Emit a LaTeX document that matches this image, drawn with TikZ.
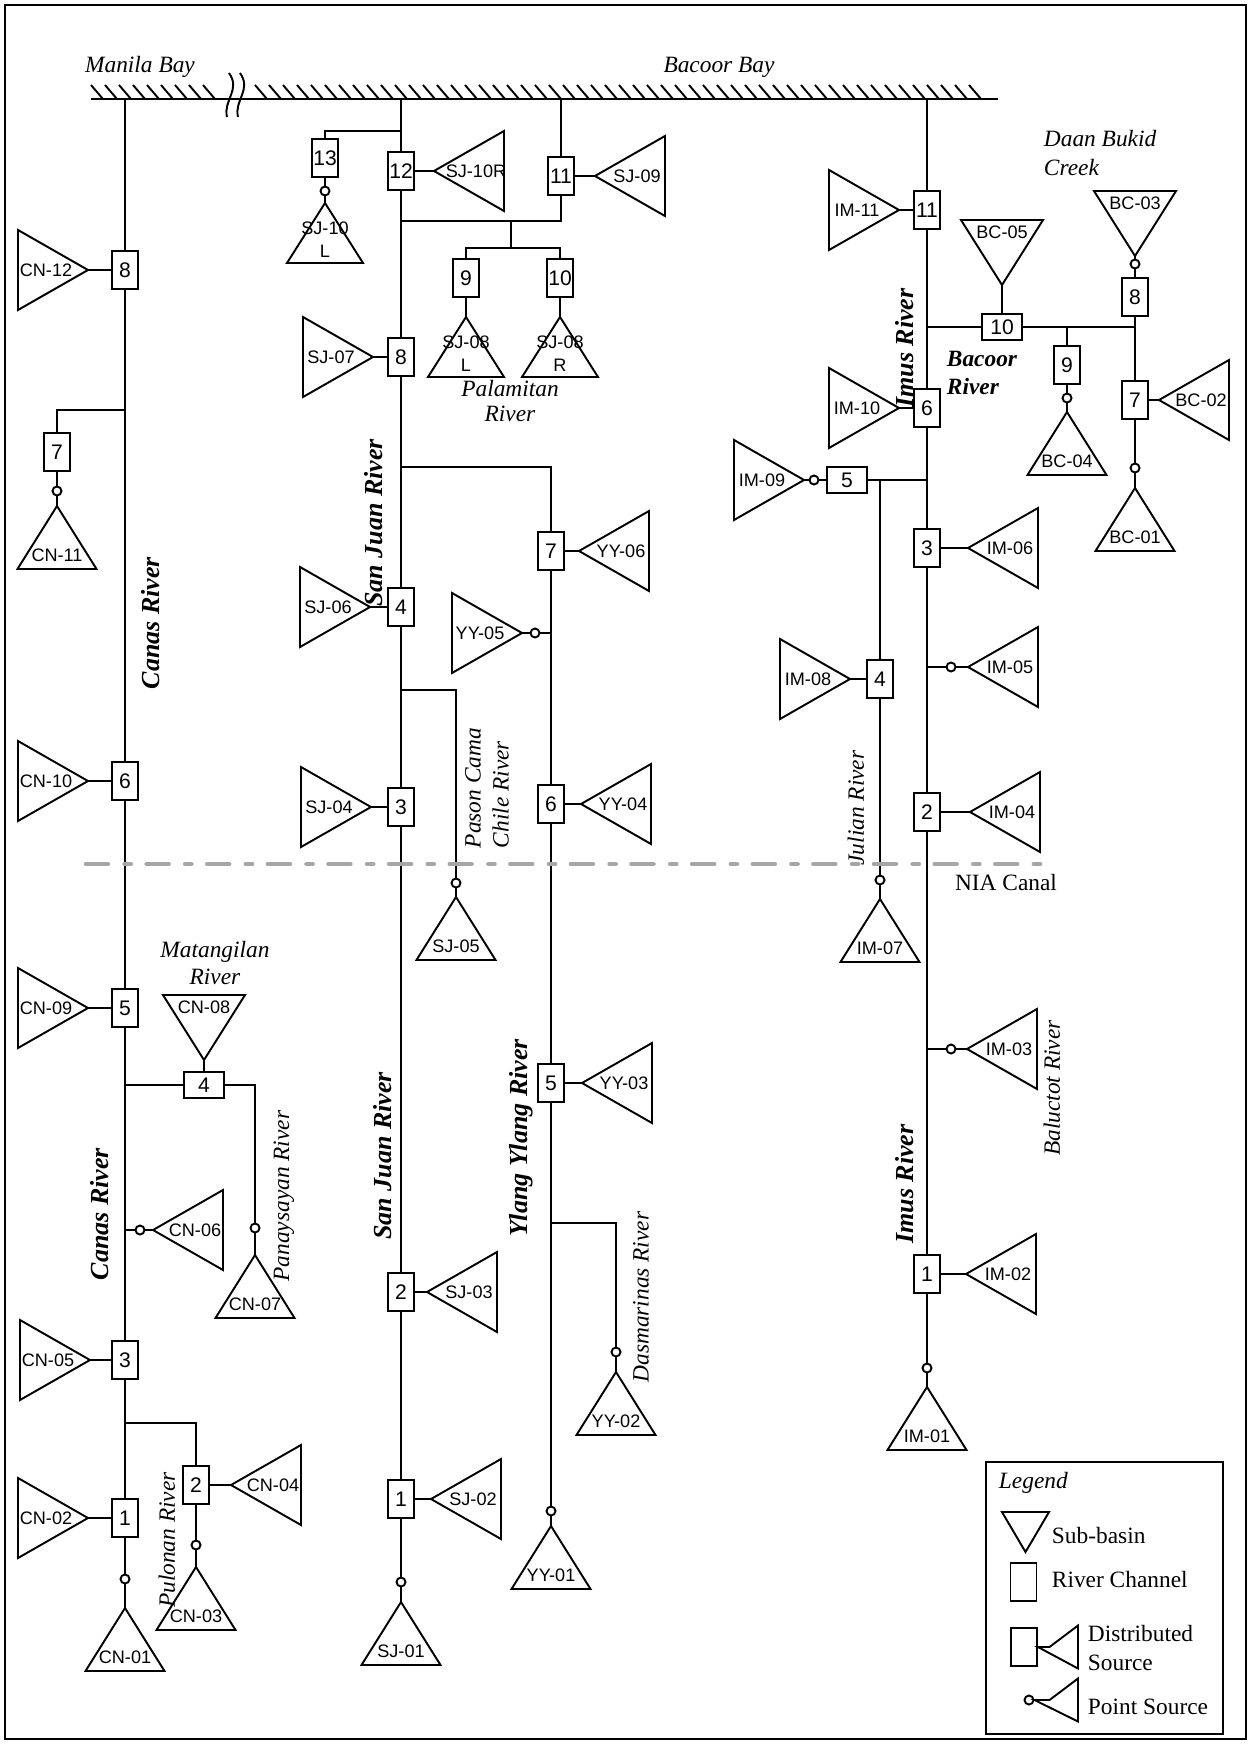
\documentclass[tikz,border=0pt]{standalone}
\usepackage{fontspec}
\setmainfont{Liberation Serif}
\setsansfont{Liberation Sans}
\usepackage{tikz}
\usetikzlibrary{calc}

% sub-basin symbols, tip at the origin
\tikzset{
  srcl/.pic={
    \draw (0,0) -- (-70,-40) -- (-70,40) -- cycle;
    \coordinate (-tip) at (0,0);
    \node[tlabel] (-lbl) at (-42,0) {#1};
  },
  srcr/.pic={
    \draw (0,0) -- (70,-40) -- (70,40) -- cycle;
    \coordinate (-tip) at (0,0);
    \node[tlabel] (-lbl) at (42,0) {#1};
  },
  srcu/.pic={
    \draw (0,0) -- (-39.5,63) -- (39.5,63) -- cycle;
    \coordinate (-tip) at (0,0);
    \node[tlabel] (-lbl) at (0,49) {#1};
  },
  srcuu/.pic={
    \draw (0,0) -- (-38,60) -- (38,60) -- cycle;
    \coordinate (-tip) at (0,0);
    \node[tlabel, align=center, font=\sffamily\fontsize{10.3}{13}\selectfont] (-lbl) at (0,37) {#1};
  },
  srcd/.pic={
    \draw (0,0) -- (-41,-65) -- (41,-65) -- cycle;
    \coordinate (-tip) at (0,0);
    \node[tlabel] (-lbl) at (0,-53) {#1};
  }
}

\begin{document}
\begin{tikzpicture}[
    x=0.02cm, y=-0.02cm, line width=1.1pt,
    chan/.style={draw, rectangle, fill=white, inner sep=0pt, minimum width=0.52cm, minimum height=0.76cm, font=\sffamily\fontsize{12}{12}\selectfont},
    hchan/.style={chan, minimum width=0.8cm, minimum height=0.52cm},
    psrc/.style={draw, circle, fill=white, inner sep=0pt, minimum size=0.18cm},
    tlabel/.style={font=\sffamily\fontsize{10.3}{11}\selectfont, inner sep=0pt},
    river/.style={font=\bfseries\itshape\fontsize{14.8}{16}\selectfont, rotate=90, inner sep=0pt},
    trib/.style={font=\itshape\fontsize{13.3}{15.9}\selectfont, rotate=90, inner sep=0pt, align=left},
    bayname/.style={font=\itshape\fontsize{13.3}{15.3}\selectfont, inner sep=0pt, align=center},
    legtext/.style={font=\fontsize{13.3}{16.4}\selectfont, inner sep=0pt, anchor=west, align=left},
    hatch/.style={line width=1.1pt},
    nia/.style={line width=2.6pt, black!35, line cap=round, dash pattern=on 12.5pt off 9.5pt on 3.5pt off 9pt}
]
\useasboundingbox (0,0) rectangle (1250,1744);
\draw (5,5) rectangle (1246,1739);

% Bays
\coordinate (bayw) at (91,99);
\coordinate (baye) at (998,99);
\draw (bayw) -- (baye);
\foreach \hx in {91,105,...,203} {\draw[hatch] (\hx,85) -- ++(12,14);}
\foreach \hx in {255,269,...,975} {\draw[hatch] (\hx,85) -- ++(12,14);}
\draw[hatch] (229,73) .. controls (241,90) and (223,100) .. (227,117);
\draw[hatch] (240,73) .. controls (252,90) and (234,100) .. (238,117);
\node[bayname] (manila) at (140,67) {Manila Bay};
\node[bayname] (bacoor) at (719,67) {Bacoor Bay};

% Canas River
\coordinate (bay-cn) at (125,99);
\coordinate (jc7) at (125,410);
\coordinate (jc4) at (125,1085);
\coordinate (jc6) at (125,1230);
\coordinate (jc2) at (125,1423);
\node[chan] (c8) at (125,270) {8};
\node[chan] (c7) at (57,452) {7};
\node[chan] (c6) at (125,781) {6};
\node[chan] (c5) at (125,1008) {5};
\node[hchan] (c4) at (204,1085) {4};
\node[chan] (c3) at (125,1360) {3};
\node[chan] (c2) at (196,1485) {2};
\node[chan] (c1) at (125,1518) {1};
\node[psrc] (cn11o) at (57,491) {};
\node[psrc] (cn07o) at (255,1228) {};
\node[psrc] (cn06o) at (140,1230) {};
\node[psrc] (cn03o) at (196,1545) {};
\node[psrc] (cn01o) at (125,1579) {};
\pic (cn12) at (88,270) {srcl=CN-12};
\pic (cn11) at (57,506) {srcu=CN-11};
\pic (cn10) at (88,781) {srcl=CN-10};
\pic (cn09) at (88,1008) {srcl=CN-09};
\pic (cn08) at (204,1060) {srcd=CN-08};
\pic (cn07) at (255,1255) {srcu=CN-07};
\pic (cn06) at (153,1230) {srcr=CN-06};
\pic (cn05) at (90,1360) {srcl=CN-05};
\pic (cn04) at (231,1485) {srcr=CN-04};
\pic (cn03) at (196,1567) {srcu=CN-03};
\pic (cn02) at (88,1518) {srcl=CN-02};
\pic (cn01) at (125,1608) {srcu=CN-01};
\draw (bay-cn) -- (c8) -- (c6) -- (c5) -- (c3) -- (c1) -- (cn01o) -- (cn01-tip);
\draw (c8) -- (cn12-tip);
\draw (jc7) -| (c7);
\draw (c7) -- (cn11o) -- (cn11-tip);
\draw (c6) -- (cn10-tip);
\draw (c5) -- (cn09-tip);
\draw (jc4) -- (c4);
\draw (c4) -- (cn08-tip);
\draw (c4) -| (cn07o) -- (cn07-tip);
\draw (jc6) -- (cn06o) -- (cn06-tip);
\draw (c3) -- (cn05-tip);
\draw (jc2) -| (c2);
\draw (c2) -- (cn04-tip);
\draw (c2) -- (cn03o) -- (cn03-tip);
\draw (c1) -- (cn02-tip);
\node[river] (canas1) at (151,623) {Canas River};
\node[river] (canas2) at (100,1214) {Canas River};
\node[bayname, font=\itshape\fontsize{13.3}{15.3}\selectfont] (matang) at (215,963) {Matangilan\\River};
\node[trib] (panay) at (284,1196) {Panaysayan River};
\node[trib] (pulon) at (167,1540) {Pulonan River};

% San Juan River
\coordinate (bay-sj) at (401,99);
\coordinate (bay-sj11) at (561,99);
\coordinate (js13) at (401,131);
\coordinate (js11) at (401,221);
\coordinate (jsk) at (561,221);
\coordinate (jm) at (511,221);
\coordinate (jm2) at (511,248);
\coordinate (jy) at (401,467);
\coordinate (jp) at (401,690);
\node[chan] (s13) at (325,158) {13};
\node[chan] (s12) at (401,171) {12};
\node[chan] (s11) at (561,176) {11};
\node[chan] (s9) at (466,278) {9};
\node[chan] (s10) at (560,278) {10};
\node[chan] (s8) at (401,357) {8};
\node[chan] (s4) at (401,607) {4};
\node[chan] (s3) at (401,807) {3};
\node[chan] (s2) at (401,1292) {2};
\node[chan] (s1) at (401,1499) {1};
\node[psrc] (sj10lo) at (325,191) {};
\node[psrc] (sj05o) at (456,883) {};
\node[psrc] (sj01o) at (401,1582) {};
\pic (sj10l) at (325,203) {srcuu={SJ-10\\L}};
\pic (sj10r) at (434,171) {srcr=SJ-10R};
\pic (sj09) at (595,176) {srcr=SJ-09};
\pic (sj08l) at (466,317) {srcuu={SJ-08\\L}};
\pic (sj08r) at (560,317) {srcuu={SJ-08\\R}};
\pic (sj07) at (373,357) {srcl=SJ-07};
\pic (sj06) at (370,607) {srcl=SJ-06};
\pic (sj05) at (456,897) {srcu=SJ-05};
\pic (sj04) at (371,807) {srcl=SJ-04};
\pic (sj03) at (427,1292) {srcr=SJ-03};
\pic (sj02) at (431,1499) {srcr=SJ-02};
\pic (sj01) at (401,1602) {srcu=SJ-01};
\draw (bay-sj) -- (s12) -- (s8) -- (s4) -- (s3) -- (s2) -- (s1) -- (sj01o) -- (sj01-tip);
\draw (js13) -| (s13);
\draw (s13) -- (sj10lo) -- (sj10l-tip);
\draw (s12) -- (sj10r-tip);
\draw (bay-sj11) -- (s11) -- (jsk) -- (js11);
\draw (s11) -- (sj09-tip);
\draw (jm) -- (jm2);
\draw (s9) |- (jm2) -| (s10);
\draw (s9) -- (sj08l-tip);
\draw (s10) -- (sj08r-tip);
\draw (s8) -- (sj07-tip);
\draw (s4) -- (sj06-tip);
\draw (jp) -| (sj05o) -- (sj05-tip);
\draw (s3) -- (sj04-tip);
\draw (s2) -- (sj03-tip);
\draw (s1) -- (sj02-tip);
\node[bayname, font=\itshape\fontsize{13.3}{14.2}\selectfont] (palam) at (510,401) {Palamitan\\River};
\node[river] (sanjuan1) at (374,523) {San Juan River};
\node[river] (sanjuan2) at (383,1156) {San Juan River};
\node[trib] (pason) at (487,788) {Pason Cama\\Chile River};

% Ylang Ylang River
\coordinate (jy5) at (551,633);
\coordinate (jd) at (551,1223);
\node[chan] (y7) at (551,551) {7};
\node[chan] (y6) at (551,804) {6};
\node[chan] (y5) at (551,1083) {5};
\node[psrc] (yy05o) at (535,633) {};
\node[psrc] (yy02o) at (616,1352) {};
\node[psrc] (yy01o) at (551,1511) {};
\pic (yy06) at (579,551) {srcr=YY-06};
\pic (yy05) at (522,633) {srcl=YY-05};
\pic (yy04) at (581,804) {srcr=YY-04};
\pic (yy03) at (582,1083) {srcr=YY-03};
\pic (yy02) at (616,1372) {srcu=YY-02};
\pic (yy01) at (551,1526) {srcu=YY-01};
\draw (jy) -| (y7);
\draw (y7) -- (y6) -- (y5) -- (yy01o) -- (yy01-tip);
\draw (y7) -- (yy06-tip);
\draw (jy5) -- (yy05o) -- (yy05-tip);
\draw (y6) -- (yy04-tip);
\draw (y5) -- (yy03-tip);
\draw (jd) -| (yy02o) -- (yy02-tip);
\node[river] (ylang) at (521,1138) {Ylang Ylang River};
\node[trib] (dasma) at (641,1297) {Dasmarinas River};

% Imus River
\coordinate (bay-im) at (927,99);
\coordinate (jb) at (927,327);
\coordinate (jb9) at (1067,327);
\coordinate (jb8) at (1135,327);
\coordinate (jm5) at (927,480);
\coordinate (jj) at (880,480);
\coordinate (jm05) at (927,667);
\coordinate (jm03) at (927,1049);
\node[chan] (m11) at (927,210) {11};
\node[chan] (m6) at (927,408) {6};
\node[hchan] (m5) at (847,480) {5};
\node[chan] (m4) at (880,679) {4};
\node[chan] (m3) at (927,548) {3};
\node[chan] (m2) at (927,812) {2};
\node[chan] (m1) at (927,1274) {1};
\node[psrc] (im09o) at (814,480) {};
\node[psrc] (im07o) at (880,880) {};
\node[psrc] (im05o) at (951,667) {};
\node[psrc] (im03o) at (951,1049) {};
\node[psrc] (im01o) at (927,1368) {};
\pic (im11) at (899,210) {srcl=IM-11};
\pic (im10) at (899,408) {srcl=IM-10};
\pic (im09) at (804,480) {srcl=IM-09};
\pic (im08) at (850,679) {srcl=IM-08};
\pic (im07) at (880,899) {srcu=IM-07};
\pic (im06) at (968,548) {srcr=IM-06};
\pic (im05) at (968,667) {srcr=IM-05};
\pic (im04) at (970,812) {srcr=IM-04};
\pic (im03) at (967,1049) {srcr=IM-03};
\pic (im02) at (966,1274) {srcr=IM-02};
\pic (im01) at (927,1387) {srcu=IM-01};
\draw (bay-im) -- (m11) -- (m6) -- (m3) -- (m2) -- (m1) -- (im01o) -- (im01-tip);
\draw (m11) -- (im11-tip);
\draw (m6) -- (im10-tip);
\draw (jm5) -- (m5) -- (im09o) -- (im09-tip);
\draw (jj) -- (m4) -- (im07o) -- (im07-tip);
\draw (m4) -- (im08-tip);
\draw (m3) -- (im06-tip);
\draw (jm05) -- (im05o) -- (im05-tip);
\draw (m2) -- (im04-tip);
\draw (jm03) -- (im03o) -- (im03-tip);
\draw (m1) -- (im02-tip);
\node[river] (imus1) at (905,348) {Imus River};
\node[river] (imus2) at (905,1184) {Imus River};
\node[trib] (julian) at (856,808) {Julian River};
\node[trib] (balu) at (1052,1088) {Baluctot River};

% Bacoor River
\node[hchan] (b10) at (1002,327) {10};
\node[chan] (b9) at (1067,365) {9};
\node[chan] (b8) at (1135,297) {8};
\node[chan] (b7) at (1135,400) {7};
\node[psrc] (bc03o) at (1135,264) {};
\node[psrc] (bc04o) at (1067,398) {};
\node[psrc] (bc01o) at (1135,468) {};
\pic (bc05) at (1002,285) {srcd=BC-05};
\pic (bc03) at (1135,256) {srcd=BC-03};
\pic (bc04) at (1067,412) {srcu=BC-04};
\pic (bc02) at (1159,400) {srcr=BC-02};
\pic (bc01) at (1135,488) {srcu=BC-01};
\draw (jb) -- (b10) -- (jb8);
\draw (b10) -- (bc05-tip);
\draw (jb9) -- (b9) -- (bc04o) -- (bc04-tip);
\draw (bc03-tip) -- (bc03o) -- (b8) -- (b7) -- (bc01o) -- (bc01-tip);
\draw (b7) -- (bc02-tip);
\node[legtext, font=\bfseries\itshape\fontsize{13.3}{16.4}\selectfont] (bacriv) at (946,373) {Bacoor\\River};
\node[legtext, font=\itshape\fontsize{13.3}{16.4}\selectfont] (daan) at (1043,153) {Daan Bukid\\Creek};

% NIA Canal
\coordinate (niaw) at (86,864);
\coordinate (niae) at (1049,864);
\draw[nia] (niaw) -- (niae);
\node[bayname, font=\fontsize{13.3}{15}\selectfont] (nialbl) at (1006,882) {NIA Canal};

% Legend
\node[draw, inner sep=0pt, minimum width=4.74cm, minimum height=5.44cm, anchor=north west] (legend) at (985,1461) {};
\node[legtext, font=\itshape\fontsize{13.3}{15}\selectfont] (legtitle) at (998,1483) {Legend};
\draw (1002,1512) -- (1049,1512) -- (1025.5,1552) -- cycle;
\node[legtext] (legsub) at (1051,1535) {Sub-basin};
\node[chan] (legchan) at (1023.5,1582) {};
\node[legtext] (legriv) at (1051,1579) {River Channel};
\node[chan] (legdbox) at (1024,1647) {};
\coordinate (legd-tip) at (1049.5,1647);
\draw (legdbox) -- (legd-tip) -- ++(28.5,-21.5) -- ++(0,43) -- cycle;
\node[legtext] (legdist) at (1087,1648) {Distributed\\Source};
\node[psrc] (legpo) at (1029,1700) {};
\coordinate (legp-tip) at (1049.5,1700);
\draw (legpo) -- (legp-tip) -- ++(28.5,-21.5) -- ++(0,43) -- cycle;
\node[legtext] (legpt) at (1087,1707) {Point Source};

\end{tikzpicture}
\end{document}
